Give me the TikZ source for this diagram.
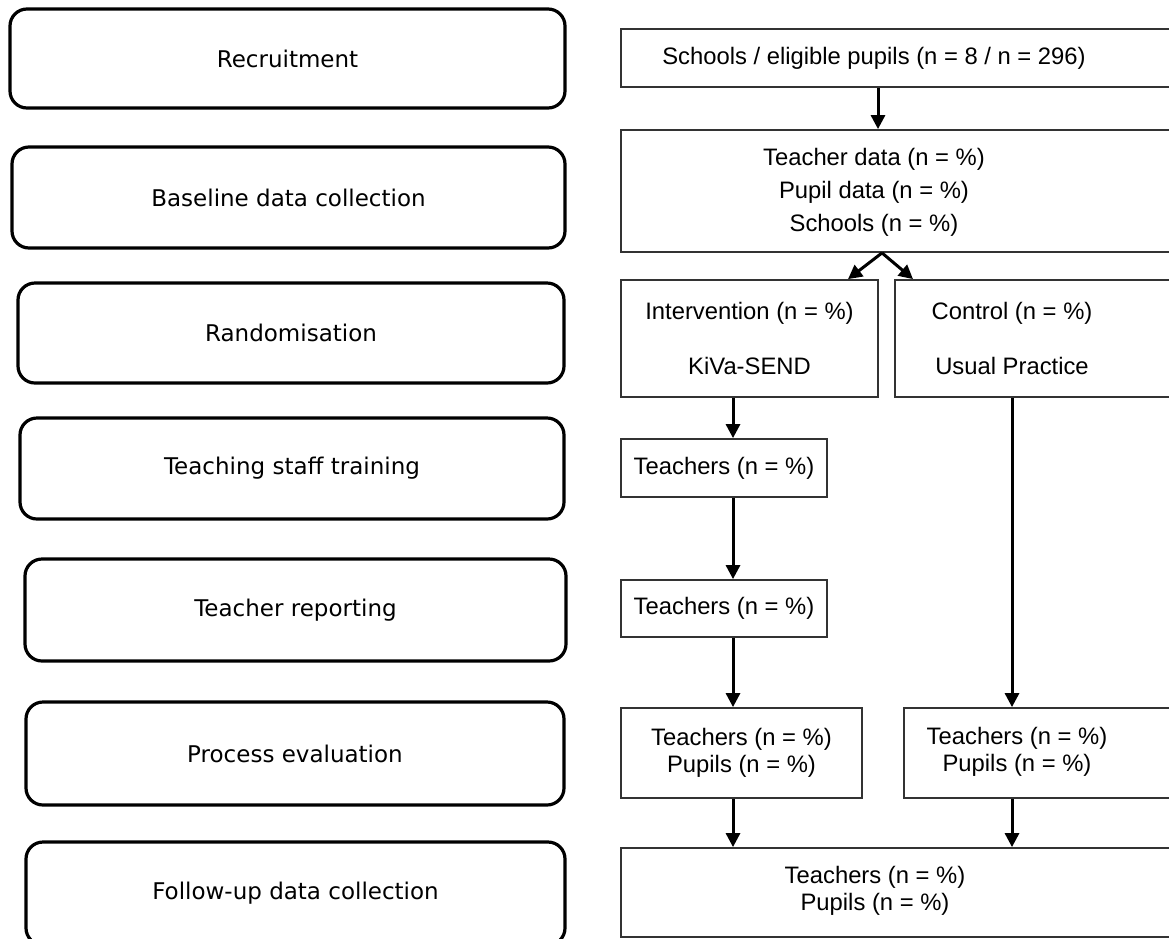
\documentclass[tikz,border=0pt]{standalone}
\usepackage{fontspec}
\setmainfont{Liberation Sans}
\newfontfamily\lfont{DejaVu Sans}
\usetikzlibrary{arrows.meta,calc}
\begin{document}
\begin{tikzpicture}[x=1pt,y=-1pt,
  lbox/.style={draw=black,line width=3.2pt,rounded corners=17pt,inner sep=0pt,font=\lfont\fontsize{23}{27}\selectfont},
  rbox/.style={draw=black!80,line width=1.8pt,inner sep=0pt,align=center,font=\fontsize{23.8}{27.5}\selectfont},
  rtext/.style={inner sep=0pt,align=center,font=\fontsize{23.8}{27.5}\selectfont},
  arr/.style={line width=3pt,-{Triangle[length=14pt,width=14pt]}}]
\useasboundingbox (0,0) rectangle (1169,938);
\clip (0,0) rectangle (1169,938);
\fill[white] (0,0) rectangle (1169,938);

% left column: stages
\node[lbox,minimum width=555pt,minimum height=99pt]  (L1) at (287.5,58.5) {Recruitment};
\node[lbox,minimum width=553pt,minimum height=101pt] (L2) at (288.5,197.5) {Baseline data collection};
\node[lbox,minimum width=546pt,minimum height=100pt] (L3) at (291,333) {Randomisation};
\node[lbox,minimum width=544pt,minimum height=101pt] (L4) at (292,468.5) {Teaching staff training};
\node[lbox,minimum width=541pt,minimum height=102pt] (L5) at (295.5,610) {Teacher reporting};
\node[lbox,minimum width=538pt,minimum height=103pt] (L6) at (295,753.5) {Process evaluation};
\node[lbox,minimum width=539pt,minimum height=103pt] (L7) at (295.5,893.5) {Follow-up data collection};

% right column: flow
\node[rbox,minimum width=564pt,minimum height=58pt] (A) at (903,58) {};
\node[rtext] (At) at (874,58) {Schools / eligible pupils (n = 8 / n = 296)};
\node[rbox,minimum width=564pt,minimum height=122pt] (B) at (903,191) {};
\node[rtext,font=\fontsize{23.8}{33}\selectfont] (Bt) at (874,192) {Teacher data (n = \%)\\Pupil data (n = \%)\\Schools (n = \%)};
\node[rbox,minimum width=257pt,minimum height=117pt] (C) at (749.5,338.5) {Intervention (n = \%)\\[27.5pt]KiVa-SEND};
\node[rbox,minimum width=290pt,minimum height=117pt] (D) at (1040,338.5) {};
\node[rtext] (Dt) at (1012,338.5) {Control (n = \%)\\[27.5pt]Usual Practice};
\node[rbox,minimum width=206pt,minimum height=58pt] (E) at (724,468) {Teachers (n = \%)};
\node[rbox,minimum width=206pt,minimum height=57pt] (F) at (724,608.5) {Teachers (n = \%)};
\node[rbox,minimum width=241pt,minimum height=90pt] (G) at (741.5,753) {Teachers (n = \%)\\Pupils (n = \%)};
\node[rbox,minimum width=281pt,minimum height=90pt] (H) at (1044.5,753) {};
\node[rtext] (Ht) at (1017,752) {Teachers (n = \%)\\Pupils (n = \%)};
\node[rbox,minimum width=564pt,minimum height=89pt] (I) at (903,892.5) {};
\node[rtext] (It) at (875,891) {Teachers (n = \%)\\Pupils (n = \%)};

% connector columns
\coordinate (cA) at (878,0);
\coordinate (cL) at (733,0);
\coordinate (cR) at (1012,0);
\coordinate (sp) at (882,0);
\coordinate (tC) at (848,0);
\coordinate (tD) at (913,0);

\draw[arr] (A.south -| cA) -- (B.north -| cA);
\draw[arr] (B.south -| sp) -- (C.north -| tC);
\draw[arr] (B.south -| sp) -- (D.north -| tD);
\draw[arr] (C.south -| cL) -- (E.north -| cL);
\draw[arr] (E.south -| cL) -- (F.north -| cL);
\draw[arr] (F.south -| cL) -- (G.north -| cL);
\draw[arr] (D.south -| cR) -- (H.north -| cR);
\draw[arr] (G.south -| cL) -- (I.north -| cL);
\draw[arr] (H.south -| cR) -- (I.north -| cR);
\end{tikzpicture}
\end{document}
